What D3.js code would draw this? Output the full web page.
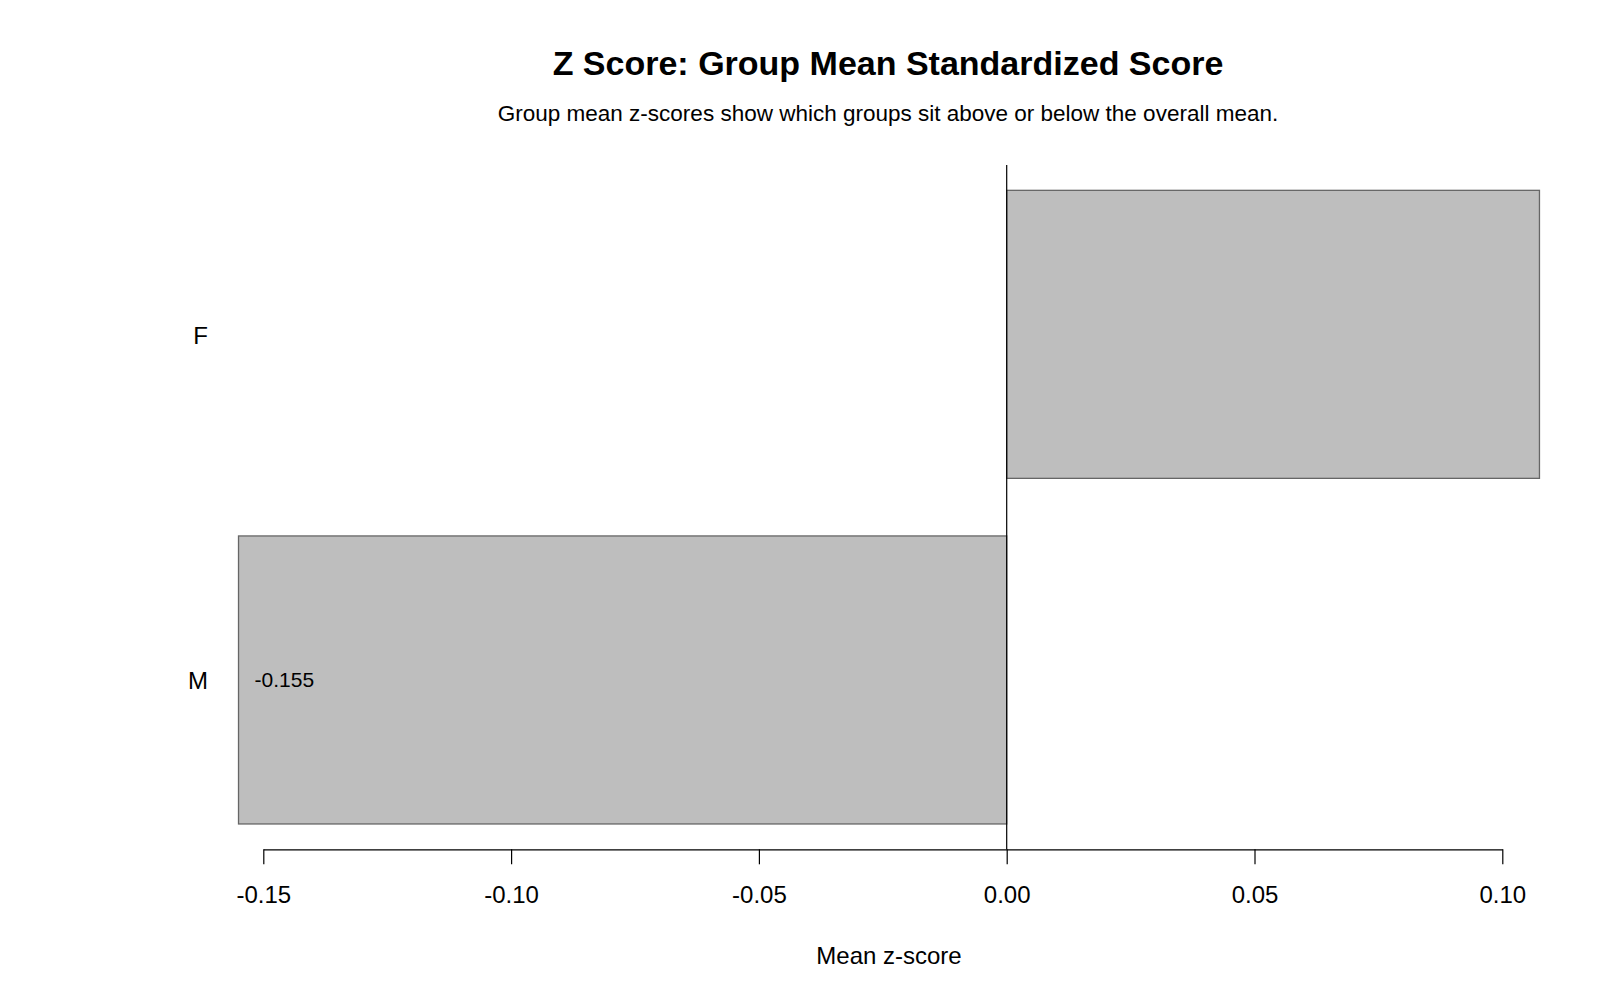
<!DOCTYPE html>
<html>
<head>
<meta charset="utf-8">
<script src="https://cdn.jsdelivr.net/npm/d3@7"></script>
<style>
  html, body { margin: 0; padding: 0; background: #ffffff; }
  svg { display: block; font-family: "Liberation Sans", Arial, sans-serif; }
</style>
</head>
<body>
<svg id="chart" width="1600" height="1000"></svg>
<script>
// ---- data ----
const categories = ["F", "M"];
const meanZ = [0.1075, -0.155];
const valueLabels = ["", "-0.155"];
const tickValues = [-0.15, -0.10, -0.05, 0.00, 0.05, 0.10];
const titleText = "Z Score: Group Mean Standardized Score";
const subtitleText = "Group mean z-scores show which groups sit above or below the overall mean.";
const xLabelText = "Mean z-score";

const data = categories.map((c, i) => ({ cat: c, value: meanZ[i], label: valueLabels[i] }));

// ---- layout ----
const svg = d3.select("#chart");
const plotTop = 165, plotBottom = 849.3;

const x = d3.scaleLinear().domain([-0.15, 0.10]).range([263.3, 1502.3]);
const y = d3.scaleBand()
  .domain(categories)
  .range([plotTop, plotBottom])
  .paddingInner(0.2 / 1.2)
  .paddingOuter(0.0733);

// title & subtitle
svg.append("text")
  .attr("x", 888).attr("y", 75)
  .attr("text-anchor", "middle")
  .attr("font-size", 34).attr("font-weight", "bold")
  .attr("fill", "#000")
  .text(titleText);

svg.append("text")
  .attr("x", 888).attr("y", 121)
  .attr("text-anchor", "middle")
  .attr("font-size", 22.5)
  .attr("fill", "#000")
  .text(subtitleText);

// bars
svg.append("g").selectAll("rect")
  .data(data)
  .join("rect")
  .attr("x", d => x(Math.min(0, d.value)))
  .attr("y", d => y(d.cat))
  .attr("width", d => Math.abs(x(d.value) - x(0)))
  .attr("height", y.bandwidth())
  .attr("fill", "#bebebe")
  .attr("stroke", "#666666")
  .attr("stroke-width", 1.3);

// zero line
svg.append("line")
  .attr("x1", x(0)).attr("x2", x(0))
  .attr("y1", plotTop).attr("y2", plotBottom)
  .attr("stroke", "#000").attr("stroke-width", 1.2);

// value labels
svg.append("g").selectAll("text")
  .data(data.filter(d => d.label))
  .join("text")
  .attr("x", d => x(Math.min(0, d.value)) + 16)
  .attr("y", d => y(d.cat) + y.bandwidth() / 2 + 7.5)
  .attr("font-size", 21)
  .attr("fill", "#000")
  .text(d => d.label);

// category labels
svg.append("g").selectAll("text")
  .data(categories)
  .join("text")
  .attr("x", 208)
  .attr("y", d => y(d) + y.bandwidth() / 2 + 9.5)
  .attr("text-anchor", "end")
  .attr("font-size", 24)
  .attr("fill", "#000")
  .text(d => d);

// x axis
const fmt = d3.format(".2f");
const xAxis = d3.axisBottom(x)
  .tickValues(tickValues)
  .tickFormat(d => fmt(d).replace("\u2212", "-"))
  .tickSizeInner(15)
  .tickSizeOuter(0)
  .tickPadding(22);

const gx = svg.append("g")
  .attr("transform", `translate(0,${plotBottom})`)
  .call(xAxis);
gx.select(".domain").attr("stroke", "#000").attr("stroke-width", 1.2);
gx.selectAll(".tick line").attr("stroke", "#000").attr("stroke-width", 1.2);
gx.selectAll(".tick text")
  .attr("font-size", 24)
  .attr("font-family", "Liberation Sans, Arial, sans-serif")
  .attr("fill", "#000")
  .attr("dy", null)
  .attr("y", 903.3 - plotBottom);

// x label
svg.append("text")
  .attr("x", 889).attr("y", 963.5)
  .attr("text-anchor", "middle")
  .attr("font-size", 24)
  .attr("fill", "#000")
  .text(xLabelText);
</script>
</body>
</html>
